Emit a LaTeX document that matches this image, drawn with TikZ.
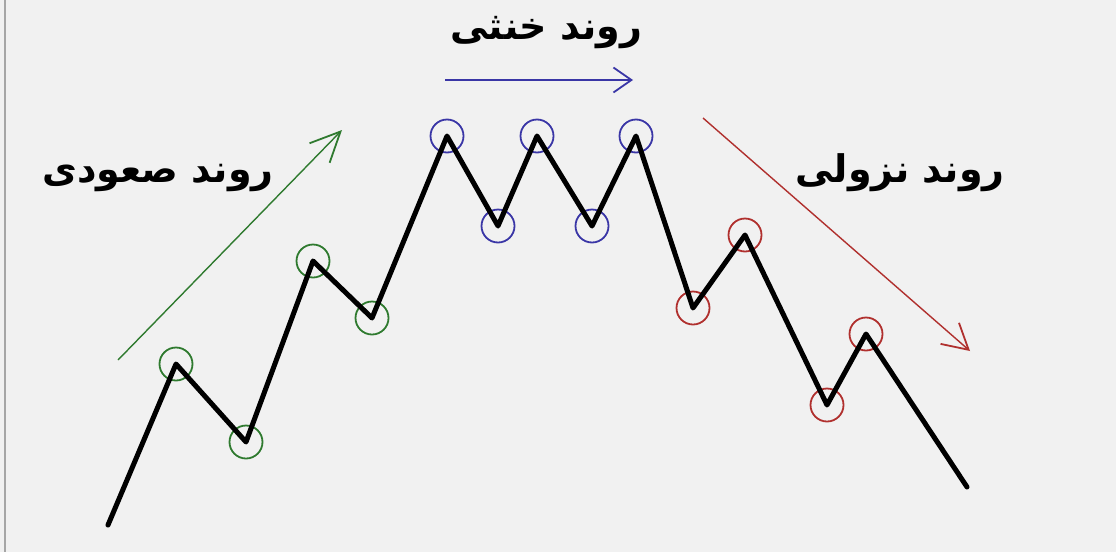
\documentclass[tikz,border=0pt]{standalone}
\usepackage{fontspec}
\newfontfamily\arabicfont[Script=Arabic]{DejaVu Sans}
\TeXXeTstate=1
\usetikzlibrary{arrows.meta}
\definecolor{bgc}{HTML}{F1F1F1}
\definecolor{upc}{HTML}{2F7A2F}
\definecolor{sidec}{HTML}{3A36A6}
\definecolor{downc}{HTML}{B0302E}
\tikzset{
  price/.style={line width=5pt, line join=round, line cap=round, black},
  mark up/.style={circle, draw=upc, line width=1.8pt, minimum size=33pt, inner sep=0pt},
  mark side/.style={circle, draw=sidec, line width=1.8pt, minimum size=33pt, inner sep=0pt},
  mark down/.style={circle, draw=downc, line width=1.8pt, minimum size=33pt, inner sep=0pt},
  trend/.style={line width=1.4pt},
  label/.style={font=\arabicfont\bfseries\fontsize{38}{44}\selectfont, inner sep=0pt}
}
\begin{document}
\begin{tikzpicture}[x=1pt,y=-1pt]
\fill[bgc] (0,0) rectangle (1116,552);
\useasboundingbox (0,0) rectangle (1116,552);
\draw[gray!70, line width=1.5pt] (5,0) -- (5,552);

% price path points
\coordinate (p0) at (108,525);
\coordinate (p1) at (176,364);
\coordinate (p2) at (246,442);
\coordinate (p3) at (313,261);
\coordinate (p4) at (372,318);
\coordinate (p5) at (447,136);
\coordinate (p6) at (498,226);
\coordinate (p7) at (537,136);
\coordinate (p8) at (592,226);
\coordinate (p9) at (636,136);
\coordinate (p10) at (693,308);
\coordinate (p11) at (745,235);
\coordinate (p12) at (827,405);
\coordinate (p13) at (866,334);
\coordinate (p14) at (967,487);

\foreach \i in {1,2,3,4} \node[mark up] (c\i) at (p\i) {};
\foreach \i in {5,6,7,8,9} \node[mark side] (c\i) at (p\i) {};
\foreach \i in {10,11,12,13} \node[mark down] (c\i) at (p\i) {};

\draw[price] (p0) -- (p1) -- (p2) -- (p3) -- (p4) -- (p5) -- (p6) -- (p7) -- (p8) -- (p9) -- (p10) -- (p11) -- (p12) -- (p13) -- (p14);

% trend arrows
\coordinate (ua) at (118,360);
\coordinate (ub) at (342,130);
\coordinate (sa) at (445,80);
\coordinate (sb) at (633,80);
\coordinate (da) at (703,118);
\coordinate (db) at (970,351);
\draw[trend, upc, -{Straight Barb[length=30pt,width=28pt,line width=1.8pt]}] (ua) -- (ub);
\draw[trend, sidec, -{Straight Barb[length=18pt,width=25pt,line width=1.8pt]}] (sa) -- (sb);
\draw[trend, downc, -{Straight Barb[length=25pt,width=28pt,line width=1.8pt]}] (da) -- (db);

% labels
\node[label] (lup) at (158,178) {\beginR روند صعودی\endR};
\node[label] (lside) at (546,33) {\beginR روند خنثی\endR};
\node[label] (ldown) at (900,173) {\beginR روند نزولی\endR};
\end{tikzpicture}
\end{document}
